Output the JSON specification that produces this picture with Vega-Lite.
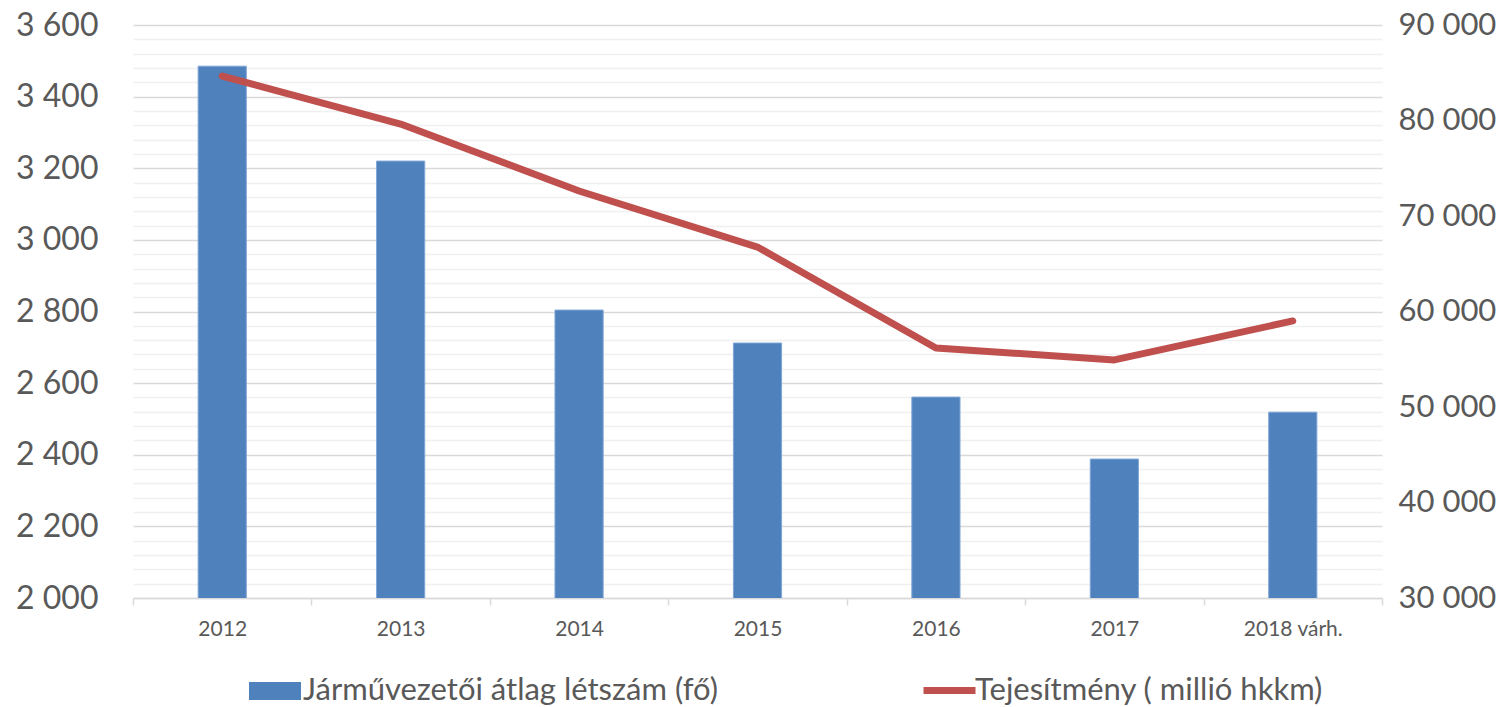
{
  "$schema": "https://vega.github.io/schema/vega-lite/v6.json",
  "width": 1249,
  "height": 573,
  "autosize": {"type": "none"},
  "padding": {"left": 133, "top": 25, "right": 120, "bottom": 109},
  "background": "white",
  "config": {
    "view": {"stroke": null},
    "font": "Lato",
    "axis": {"labelFont": "Lato", "labelColor": "#595959", "title": null}
  },
  "data": {
    "values": [
      {"year": "2012", "drivers": 3485, "perf": 84650},
      {"year": "2013", "drivers": 3220, "perf": 79630},
      {"year": "2014", "drivers": 2804, "perf": 72620},
      {"year": "2015", "drivers": 2712, "perf": 66750},
      {"year": "2016", "drivers": 2561, "perf": 56180},
      {"year": "2017", "drivers": 2388, "perf": 54930},
      {"year": "2018 várh.", "drivers": 2519, "perf": 59010}
    ]
  },
  "layer": [
    {
      "mark": {"type": "bar", "width": {"band": 0.27}, "stroke": "#7fa6d6", "strokeWidth": 1, "clip": true},
      "encoding": {
        "x": {
          "field": "year", "type": "ordinal", "sort": null,
          "scale": {"paddingInner": 0, "paddingOuter": 0},
          "axis": {
            "labelAngle": 0, "tickBand": "extent", "domainColor": "#d9d9d9", "domainWidth": 1.5,
            "tickColor": "#d9d9d9", "tickWidth": 1.5, "tickSize": 7, "labelFontSize": 21,
            "labelPadding": 13, "grid": false
          }
        },
        "y": {
          "field": "drivers", "type": "quantitative",
          "scale": {"domain": [2000, 3600], "nice": false, "zero": false},
          "axis": {
            "orient": "left",
            "values": [2000, 2040, 2080, 2120, 2160, 2200, 2240, 2280, 2320, 2360, 2400, 2440, 2480, 2520, 2560, 2600, 2640, 2680, 2720, 2760, 2800, 2840, 2880, 2920, 2960, 3000, 3040, 3080, 3120, 3160, 3200, 3240, 3280, 3320, 3360, 3400, 3440, 3480, 3520, 3560, 3600],
            "grid": true,
            "gridColor": {"condition": {"test": "datum.value % 200 === 0", "value": "#d9d9d9"}, "value": "#f0f0f0"},
            "gridWidth": 1.5,
            "ticks": false, "domain": false,
            "labelOverlap": false,
            "labelExpr": "datum.value % 200 === 0 ? replace(format(datum.value, ','), ',', ' ') : ''",
            "labelFontSize": 32, "labelPadding": 35
          }
        },
        "color": {
          "datum": "Járművezetői átlag létszám (fő)",
          "scale": {"range": ["#4f81bd"]},
          "legend": {
            "orient": "none", "legendX": 116, "legendY": 640, "direction": "horizontal",
            "title": null, "symbolType": "M-1,-0.35H1V0.35H-1Z", "symbolSize": 2704,
            "symbolStrokeWidth": 0, "labelFontSize": 31, "labelColor": "#595959",
            "labelOffset": 2, "padding": 0, "labelLimit": 0, "labelFont": "Lato"
          }
        }
      }
    },
    {
      "mark": {"type": "line", "strokeWidth": 7, "strokeCap": "round", "strokeJoin": "round"},
      "encoding": {
        "x": {"field": "year", "type": "ordinal", "sort": null},
        "y": {
          "field": "perf", "type": "quantitative",
          "scale": {"domain": [30000, 90000], "nice": false, "zero": false},
          "axis": {
            "orient": "right",
            "values": [30000, 40000, 50000, 60000, 70000, 80000, 90000],
            "grid": false, "ticks": false, "domain": false,
            "labelExpr": "replace(format(datum.value, ','), ',', ' ')",
            "labelFontSize": 31, "labelPadding": 16
          }
        },
        "stroke": {
          "datum": "Tejesítmény ( millió hkkm)",
          "scale": {"range": ["#c0504d"]},
          "legend": {
            "orient": "none", "legendX": 787, "legendY": 636, "direction": "horizontal",
            "title": null, "symbolType": "stroke", "symbolSize": 2704,
            "symbolStrokeWidth": 7, "labelFontSize": 31, "labelColor": "#595959",
            "labelOffset": -4, "padding": 0, "labelLimit": 0, "labelFont": "Lato"
          }
        }
      }
    }
  ],
  "resolve": {"scale": {"y": "independent"}}
}
